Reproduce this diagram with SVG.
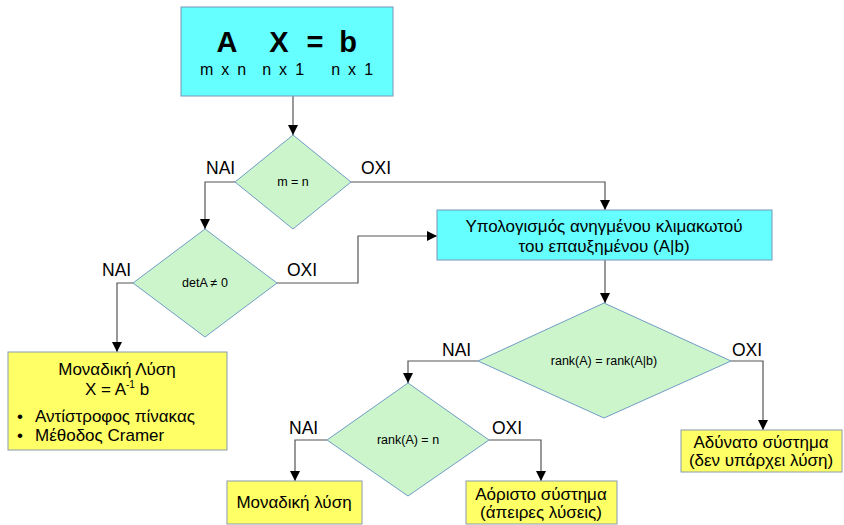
<svg xmlns="http://www.w3.org/2000/svg" width="844" height="525" viewBox="0 0 844 525">
<style>
text{font-family:"Liberation Sans",Arial,sans-serif;fill:#000}
.cy{fill:#66ffff;stroke:#7896b8;stroke-width:1}
.ye{fill:#ffff66;stroke:#8a9ab0;stroke-width:1}
.dm{fill:#ccf5cc;stroke:#6f9cc4;stroke-width:1}
.ln{fill:none;stroke:#555;stroke-width:1.2;marker-end:url(#ah)}
.lb{font-size:17.5px}
.dt{font-size:12.5px;text-anchor:middle}
.bt{font-size:17px;text-anchor:middle}
.bl{font-size:17px}
.sub{font-size:16px;text-anchor:middle;letter-spacing:1.8px}
.big{font-size:29px;font-weight:bold;text-anchor:middle}
</style>
<defs>
<marker id="ah" viewBox="0 0 10 10" refX="10" refY="5" markerWidth="10" markerHeight="10" markerUnits="userSpaceOnUse" orient="auto">
<path d="M0,0 L10,5 L0,10 Z" fill="#000"/>
</marker>
</defs>
<rect width="844" height="525" fill="#fff"/>
<g id="connectors">
<path class="ln" d="M293,96 V135"/>
<path class="ln" d="M235,182 H205 V229"/>
<path class="ln" d="M351,182 H605 V210"/>
<path class="ln" d="M133,283 H117 V352"/>
<path class="ln" d="M277,283 H358 V236 H437"/>
<path class="ln" d="M605,260 V303"/>
<path class="ln" d="M478,361 H408 V383"/>
<path class="ln" d="M731,361 H763 V430"/>
<path class="ln" d="M327,440 H295 V481"/>
<path class="ln" d="M489,440 H541 V481"/>
</g>
<g id="labels">
<text class="lb" x="206" y="174">NAI</text>
<text class="lb" x="361" y="174">OXI</text>
<text class="lb" x="102" y="276">NAI</text>
<text class="lb" x="287" y="276">OXI</text>
<text class="lb" x="442" y="356">NAI</text>
<text class="lb" x="732" y="356">OXI</text>
<text class="lb" x="289" y="434">NAI</text>
<text class="lb" x="492" y="434">OXI</text>
</g>
<g id="start">
<rect class="cy" x="181" y="7" width="212" height="89"/>
<text class="big" x="227" y="52">A</text>
<text class="big" x="279" y="52">X</text>
<text class="big" x="315" y="52">=</text>
<text class="big" x="348" y="52">b</text>
<text class="sub" x="224" y="75">m x n</text>
<text class="sub" x="284" y="75">n x 1</text>
<text class="sub" x="353" y="75">n x 1</text>
</g>
<g id="d1">
<polygon class="dm" points="293,135 351,182 293,229 235,182"/>
<text class="dt" x="293" y="186">m = n</text>
</g>
<g id="d2">
<polygon class="dm" points="205,229 277,283 205,337 133,283"/>
<text class="dt" x="205" y="287">detA ≠ 0</text>
</g>
<g id="unique1">
<rect class="ye" x="8" y="352" width="219" height="98"/>
<text class="bt" x="117" y="375">Μοναδική Λύση</text>
<text class="bt" x="117" y="395">X = A<tspan font-size="10" dy="-7">-1</tspan><tspan dy="7"> b</tspan></text>
<text class="bl" x="17" y="422">•</text>
<text class="bl" x="35" y="422">Αντίστροφος πίνακας</text>
<text class="bl" x="17" y="441">•</text>
<text class="bl" x="35" y="441">Μέθοδος Cramer</text>
</g>
<g id="echelon">
<rect class="cy" x="437" y="210" width="335" height="50"/>
<text class="bt" x="604" y="232">Υπολογισμός ανηγμένου κλιμακωτού</text>
<text class="bt" x="604" y="252">του επαυξημένου (A|b)</text>
</g>
<g id="d3">
<polygon class="dm" points="604,303 731,361 604,418 478,361"/>
<text class="dt" x="604" y="365">rank(A) = rank(A|b)</text>
</g>
<g id="d4">
<polygon class="dm" points="408,383 489,440 408,496 327,440"/>
<text class="dt" x="408" y="444">rank(A) = n</text>
</g>
<g id="unique2">
<rect class="ye" x="227" y="481" width="135" height="43"/>
<text class="bt" x="294" y="508">Μοναδική λύση</text>
</g>
<g id="infinite">
<rect class="ye" x="466" y="481" width="151" height="43"/>
<text class="bt" x="541" y="500">Αόριστο σύστημα</text>
<text class="bt" x="541" y="518">(άπειρες λύσεις)</text>
</g>
<g id="impossible">
<rect class="ye" x="681" y="430" width="161" height="42"/>
<text class="bt" x="761" y="448">Αδύνατο σύστημα</text>
<text class="bt" x="761" y="466">(δεν υπάρχει λύση)</text>
</g>
</svg>
